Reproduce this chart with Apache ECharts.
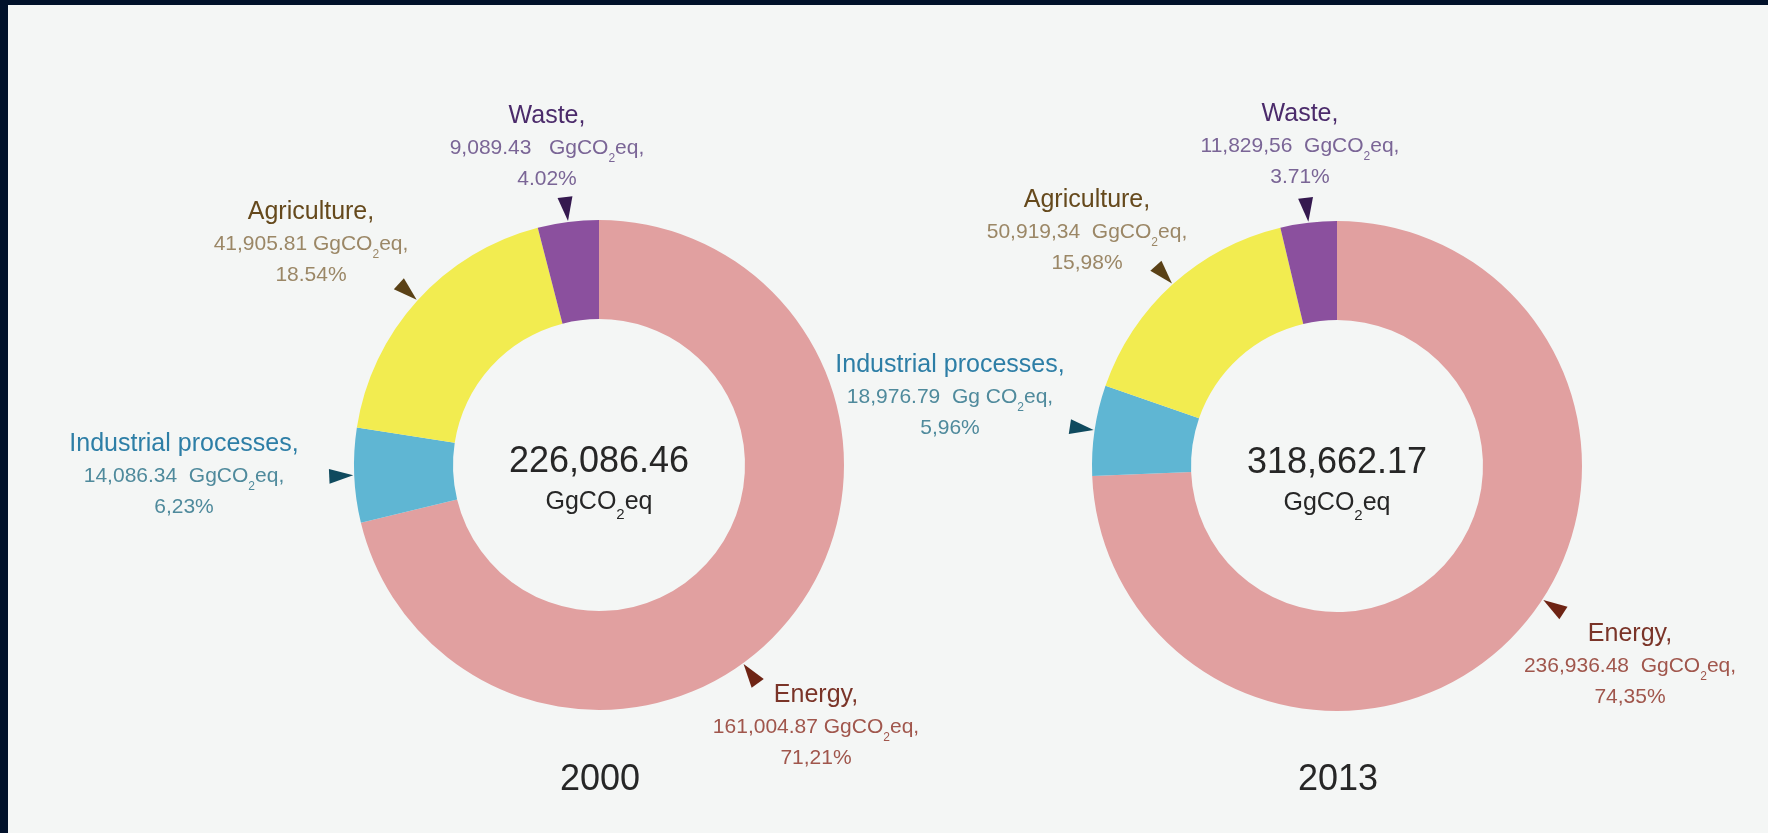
<!DOCTYPE html>
<html><head><meta charset="utf-8">
<script src="https://cdn.jsdelivr.net/npm/echarts@6/dist/echarts.min.js"></script>
<style>html,body{margin:0;padding:0;background:#f4f6f5;} #c{width:1768px;height:833px;}</style>
</head><body><div id="c"></div>
<script>
// ---- data ----
const categories = ['Energy', 'Industrial processes', 'Agriculture', 'Waste'];
const years = ['2000', '2013'];
const values2000 = [161004.87, 14086.34, 41905.81, 9089.43];
const values2013 = [236936.48, 18976.79, 50919.34, 11829.56];
const valueText2000 = ['161,004.87', '14,086.34 ', '41,905.81', '9,089.43  '];
const valueText2013 = ['236,936.48 ', '18,976.79 ', '50,919,34 ', '11,829,56 '];
const unitText2000 = ['GgCO', 'GgCO', 'GgCO', 'GgCO'];
const unitText2013 = ['GgCO', 'Gg CO', 'GgCO', 'GgCO'];
const pctText2000 = ['71,21%', '6,23%', '18.54%', '4.02%'];
const pctText2013 = ['74,35%', '5,96%', '15,98%', '3.71%'];
const totalText = ['226,086.46', '318,662.17'];

// ---- styling / layout ----
const sliceColors = ['#e1a0a0', '#5fb6d3', '#f2ec50', '#8b509e'];
const nameColors = ['#7a3428', '#2d7ea6', '#65491c', '#4b2b6b'];
const valColors = ['#a0564c', '#4f8a9c', '#9b8766', '#7a6596'];
const arrowColors = ['#6e2414', '#0f4a5e', '#5a4116', '#35194f'];
const centers = [[599, 465], [1337, 466]];
const radii = [146, 245];
const labelPos = [
  [[816, 727], [184, 476], [311, 244], [547, 148]],
  [[1630, 666], [950, 397], [1087, 232], [1300, 146]]
];
const energyArrowAngle = [144, 123];
const FONT = "'Liberation Sans', Arial, sans-serif";

const valueSets = [values2000, values2013];
const valueTexts = [valueText2000, valueText2013];
const unitTexts = [unitText2000, unitText2013];
const pctTexts = [pctText2000, pctText2013];

const rich = {};
categories.forEach((c, i) => {
  rich['n' + i] = {fontSize: 25, lineHeight: 29, color: nameColors[i], fontFamily: FONT};
  rich['v' + i] = {fontSize: 21, lineHeight: 34, color: valColors[i], fontFamily: FONT};
  rich['s' + i] = {fontSize: 12, lineHeight: 12, color: valColors[i], fontFamily: FONT, verticalAlign: 'bottom'};
  rich['p' + i] = {fontSize: 21, lineHeight: 29, color: valColors[i], fontFamily: FONT};
});

const series = valueSets.map((vals, si) => ({
  type: 'pie',
  center: centers[si],
  radius: radii,
  startAngle: 90,
  clockwise: true,
  silent: true,
  animation: false,
  avoidLabelOverlap: false,
  data: categories.map((c, i) => ({name: c, value: vals[i], itemStyle: {color: sliceColors[i]}})),
  label: {
    show: true,
    position: 'outside',
    formatter: (p) => {
      const i = p.dataIndex;
      return '{n' + i + '|' + categories[i] + ',}\n' +
        '{v' + i + '|' + valueTexts[si][i] + ' ' + unitTexts[si][i] + '}{s' + i + '|2}{v' + i + '|eq,}\n' +
        '{p' + i + '|' + pctTexts[si][i] + '}';
    },
    rich: rich,
    align: 'center'
  },
  labelLine: {show: false},
  labelLayout: (params) => {
    const pos = labelPos[si][params.dataIndex];
    return {x: pos[0], y: pos[1], align: 'center', verticalAlign: 'middle'};
  }
}));

// arrows, pointing at the slices' outer edge
const graphics = [
  {type: 'rect', shape: {x: 0, y: 0, width: 1768, height: 5}, style: {fill: '#01112a'}, silent: true},
  {type: 'rect', shape: {x: 0, y: 0, width: 8, height: 833}, style: {fill: '#01112a'}, silent: true}
];
valueSets.forEach((vals, si) => {
  const total = vals.reduce((a, b) => a + b, 0);
  let cum = 0;
  const R = radii[1];
  const [cx, cy] = centers[si];
  vals.forEach((v, i) => {
    let ang = (cum + v / 2) / total * 360;
    cum += v;
    if (i === 0) ang = energyArrowAngle[si];
    const t = ang * Math.PI / 180;
    const dx = Math.sin(t), dy = -Math.cos(t);
    const px = Math.cos(t), py = Math.sin(t);
    const tip = [cx + dx * (R + 1), cy + dy * (R + 1)];
    const bc = [cx + dx * (R + 25), cy + dy * (R + 25)];
    graphics.push({
      type: 'polygon', silent: true,
      shape: {points: [tip, [bc[0] + px * 7.5, bc[1] + py * 7.5], [bc[0] - px * 7.5, bc[1] - py * 7.5]]},
      style: {fill: arrowColors[i]}
    });
  });
  // centre total
  graphics.push({
    type: 'text', silent: true, x: cx, y: cy + 17,
    style: {
      text: '{t|' + totalText[si] + '}\n{u|GgCO}{s|2}{u|eq}',
      align: 'center', verticalAlign: 'middle',
      rich: {
        t: {fontSize: 36, lineHeight: 40, fill: '#262626', fontFamily: FONT, align: 'center'},
        u: {fontSize: 25, lineHeight: 40, fill: '#262626', fontFamily: FONT},
        s: {fontSize: 15, lineHeight: 15, fill: '#262626', fontFamily: FONT, verticalAlign: 'bottom'}
      }
    }
  });
  // year
  graphics.push({
    type: 'text', silent: true, x: cx + 1, y: 780,
    style: {text: years[si], fontSize: 36, fill: '#262626', fontFamily: FONT, align: 'center', verticalAlign: 'middle'}
  });
});

const chart = echarts.init(document.getElementById('c'), null, {renderer: 'canvas'});
chart.setOption({
  backgroundColor: '#f4f6f5',
  animation: false,
  series: series,
  graphic: graphics
});
</script>
</body></html>
